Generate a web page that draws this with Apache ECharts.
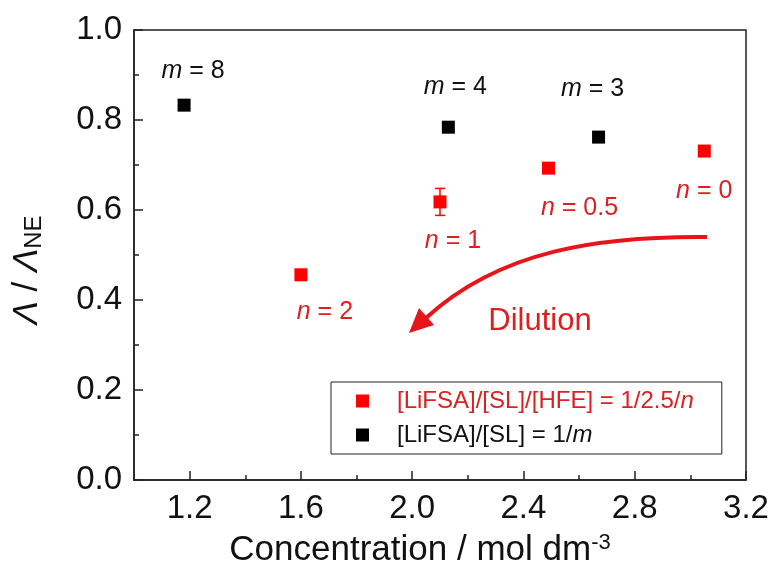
<!DOCTYPE html>
<html>
<head>
<meta charset="utf-8">
<script src="https://cdn.jsdelivr.net/npm/echarts@6/dist/echarts.min.js"></script>
<style>
  html, body { margin: 0; padding: 0; background: #fff; }
  #chart { width: 774px; height: 562px; }
</style>
</head>
<body>
<div id="chart"></div>
<script>
// [LiFSA]/[SL] = 1/m
const mConc = [1.18, 2.13, 2.67];
const mRatio = [0.833, 0.784, 0.762];
const mValues = [8, 4, 3];

// [LiFSA]/[SL]/[HFE] = 1/2.5/n
const nConc = [1.60, 2.10, 2.49, 3.05];
const nRatio = [0.456, 0.618, 0.693, 0.731];
const nValues = [2, 1, 0.5, 0];
const nErr = [0, 0.03, 0, 0];

const xTicks = [1.2, 1.6, 2.0, 2.4, 2.8, 3.2];
const xMinorTicks = [1.4, 1.8, 2.2, 2.6, 3.0];

// label offsets (px) relative to each point
const mLabelOffset = [[9, -34], [7, -40], [-6, -48]];
const nLabelOffset = [[24, 37], [13, 39], [31, 40], [0, 40]];

const FONT = 'Liberation Sans, Arial, sans-serif';
const RED = '#ff0000';
const RED_TEXT = '#dc1f1f';
const INK = '#111';

const chart = echarts.init(document.getElementById('chart'));

const redName = '[LiFSA]/[SL]/[HFE] = 1/2.5/n';
const blackName = '[LiFSA]/[SL] = 1/m';

const labelRich = c => ({
  i: { fontStyle: 'italic', fontSize: 25, fontFamily: FONT, color: c },
  t: { fontSize: 25, fontFamily: FONT, color: c }
});

const option = {
  animation: false,
  backgroundColor: '#fff',
  textStyle: { fontFamily: FONT },
  grid: {
    left: 134, right: 28, top: 30, bottom: 82,
    containLabel: false, outerBoundsMode: 'none',
    show: true, borderColor: '#222', borderWidth: 1.5
  },
  legend: {
    orient: 'vertical',
    left: 331, top: 382,
    padding: [5, 28, 5, 25],
    itemWidth: 13, itemHeight: 13, itemGap: 6,
    borderColor: '#222', borderWidth: 1,
    data: [
      { name: redName, icon: 'rect', itemStyle: { color: RED, opacity: 1 } },
      { name: blackName, icon: 'rect', itemStyle: { color: '#000', opacity: 1 } }
    ],
    formatter: name => name === redName
      ? '{r|[LiFSA]/[SL]/[HFE] = 1/2.5/}{ri|n}'
      : '{k|[LiFSA]/[SL] = 1/}{ki|m}',
    textStyle: {
      fontSize: 24, lineHeight: 28,
      rich: {
        r: { color: RED_TEXT, fontSize: 24, fontFamily: FONT, padding: [0, 0, 0, 23] },
        ri: { color: RED_TEXT, fontSize: 24, fontStyle: 'italic', fontFamily: FONT },
        k: { color: INK, fontSize: 24, fontFamily: FONT, padding: [0, 0, 0, 23] },
        ki: { color: INK, fontSize: 24, fontStyle: 'italic', fontFamily: FONT }
      }
    }
  },
  xAxis: [
    {
      type: 'value', min: 1.0, max: 3.2, position: 'bottom',
      name: '{a|Concentration / mol dm}{s|-3}',
      nameLocation: 'middle', nameGap: 52,
      nameTextStyle: {
        padding: [0, 40, 0, 0],
        rich: {
          a: { fontSize: 35, color: INK, fontFamily: FONT },
          s: { fontSize: 22, color: INK, fontFamily: FONT, verticalAlign: 'top', padding: [0, 0, 14, 0] }
        }
      },
      axisLine: { lineStyle: { color: '#222', width: 1.5 } },
      axisTick: { inside: true, length: 9, customValues: xTicks, lineStyle: { color: '#222', width: 1.5 } },
      axisLabel: {
        customValues: xTicks, formatter: v => v.toFixed(1),
        fontSize: 33, color: INK, margin: 12, fontFamily: FONT
      },
      splitLine: { show: false }
    },
    {
      type: 'value', min: 1.0, max: 3.2, position: 'bottom',
      axisLine: { show: false },
      axisTick: { inside: true, length: 5, customValues: xMinorTicks, lineStyle: { color: '#222', width: 1.5 } },
      axisLabel: { show: false },
      splitLine: { show: false }
    }
  ],
  yAxis: {
    type: 'value', min: 0, max: 1.0, interval: 0.2,
    name: '{i|Λ}{t| / }{i|Λ}{s|NE}',
    nameLocation: 'middle', nameGap: 88,
    nameTextStyle: {
      padding: [0, 30, 0, 0],
      rich: {
        i: { fontSize: 35, fontStyle: 'italic', color: INK, fontFamily: FONT },
        t: { fontSize: 35, color: INK, fontFamily: FONT },
        s: { fontSize: 24, color: INK, fontFamily: FONT, verticalAlign: 'bottom', padding: [14, 0, 0, 0] }
      }
    },
    axisLine: { lineStyle: { color: '#222', width: 1.5 } },
    axisTick: { inside: true, length: 9, lineStyle: { color: '#222', width: 1.5 } },
    minorTick: { show: true, splitNumber: 2, length: 5, lineStyle: { color: '#222', width: 1.5 } },
    axisLabel: { formatter: v => v.toFixed(1), fontSize: 33, color: INK, margin: 12, fontFamily: FONT },
    splitLine: { show: false },
    minorSplitLine: { show: false }
  },
  series: [
    {
      name: 'err',
      type: 'custom',
      z: 1,
      data: nConc.map((x, i) => [x, nRatio[i] - nErr[i], nRatio[i] + nErr[i]]).filter((d, i) => nErr[i] > 0),
      renderItem: (params, api) => {
        const lo = api.coord([api.value(0), api.value(1)]);
        const hi = api.coord([api.value(0), api.value(2)]);
        const w = 5;
        const style = { stroke: RED, lineWidth: 1.5 };
        return {
          type: 'group',
          children: [
            { type: 'line', shape: { x1: lo[0], y1: lo[1], x2: hi[0], y2: hi[1] }, style },
            { type: 'line', shape: { x1: lo[0] - w, y1: lo[1], x2: lo[0] + w, y2: lo[1] }, style },
            { type: 'line', shape: { x1: hi[0] - w, y1: hi[1], x2: hi[0] + w, y2: hi[1] }, style }
          ]
        };
      },
      silent: true
    },
    {
      name: redName,
      type: 'scatter',
      symbol: 'rect', symbolSize: 13,
      itemStyle: { color: RED, opacity: 1 },
      z: 3,
      data: nConc.map((x, i) => ({
        value: [x, nRatio[i]],
        label: { offset: nLabelOffset[i] }
      })),
      label: {
        show: true, position: 'inside', color: RED_TEXT,
        formatter: p => '{i|n}{t| = ' + nValues[p.dataIndex] + '}',
        rich: labelRich(RED_TEXT)
      }
    },
    {
      name: blackName,
      type: 'scatter',
      symbol: 'rect', symbolSize: 13,
      itemStyle: { color: '#000', opacity: 1 },
      z: 3,
      data: mConc.map((x, i) => ({
        value: [x, mRatio[i]],
        label: { offset: mLabelOffset[i] }
      })),
      label: {
        show: true, position: 'inside', color: INK,
        formatter: p => '{i|m}{t| = ' + mValues[p.dataIndex] + '}',
        rich: labelRich(INK)
      }
    }
  ],
  graphic: [
    {
      type: 'bezierCurve',
      shape: { x1: 707, y1: 237, cpx1: 600, cpy1: 236, cpx2: 500, cpy2: 250, x2: 426, y2: 318 },
      style: { stroke: '#e8141a', lineWidth: 4, fill: null }
    },
    {
      type: 'polygon',
      shape: { points: [[409, 333], [434, 325], [419, 308]] },
      style: { fill: '#e8141a' }
    },
    {
      type: 'text',
      x: 540, y: 321,
      style: {
        text: 'Dilution', fontSize: 31, fontFamily: FONT, fill: RED_TEXT,
        align: 'center', verticalAlign: 'middle'
      }
    }
  ]
};

chart.setOption(option);
</script>
</body>
</html>
